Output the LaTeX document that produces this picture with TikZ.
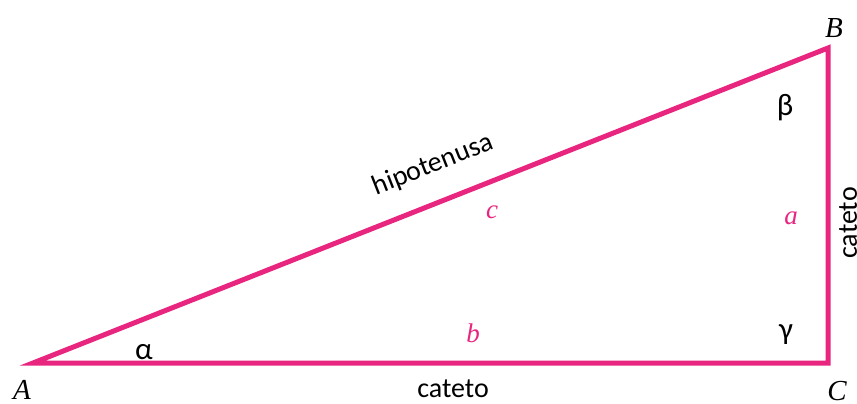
\documentclass[tikz,border=0pt]{standalone}
\usepackage{fontspec}
\setmainfont{Liberation Serif}
\newfontfamily\carlfont{Carlito}
\definecolor{tri}{RGB}{232,38,127}
\begin{document}
\begin{tikzpicture}[x=1pt,y=-1pt,
  side/.style={draw=tri,line width=5pt,line join=miter},
  vlabel/.style={font=\fontsize{29}{29}\selectfont\itshape,text=black,inner sep=0pt},
  slabel/.style={font=\fontsize{27}{27}\selectfont\itshape,text=tri,inner sep=0pt},
  word/.style={font=\carlfont\fontsize{28}{28}\selectfont,text=black,inner sep=0pt},
  greek/.style={font=\carlfont\fontsize{31}{31}\selectfont,text=black,inner sep=0pt}]
\useasboundingbox (0,0) rectangle (857,404);
\coordinate (A) at (33,363);
\coordinate (B) at (828,48);
\coordinate (C) at (828,363);
\draw[side] (A) -- (B) -- (C) -- cycle;
\node[vlabel] (lA) at (22,390) {A};
\node[vlabel] (lB) at (834,28) {B};
\node[vlabel] (lC) at (837,391) {C};
\node[slabel] (lc) at (492,212) {c};
\node[slabel] (la) at (791,218) {a};
\node[slabel] (lb) at (473,333) {b};
\node[greek] (al) at (144,352) {α};
\node[greek] (be) at (785,108) {β};
\node[greek] (ga) at (786,335) {γ};
\node[word,rotate=21.5] (hyp) at (433,165) {hipotenusa};
\node[word] (cb) at (453,389) {cateto};
\node[word,rotate=90] (cr) at (848,223) {cateto};
\end{tikzpicture}
\end{document}
